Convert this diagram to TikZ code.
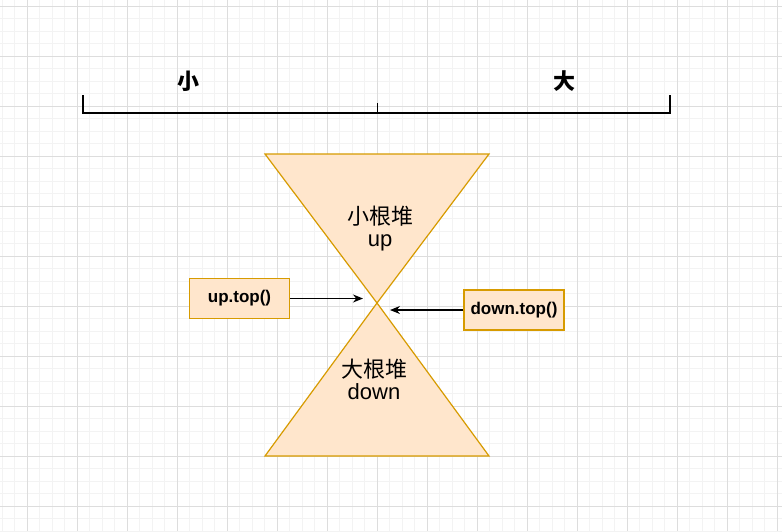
\documentclass[tikz,border=0pt]{standalone}
\usepackage{fontspec}
\setmainfont{Liberation Sans}
\newfontfamily\cjk{Noto Sans CJK SC}
\usetikzlibrary{arrows.meta}
\definecolor{fillor}{HTML}{FFE6CC}
\definecolor{strokeor}{HTML}{D79B00}
\definecolor{gridminor}{HTML}{F3F3F3}
\definecolor{gridmajor}{HTML}{DDDDDD}
\tikzset{
  heap/.style={fill=fillor, draw=strokeor, line width=1.2pt, line join=miter},
  callbox/.style={rectangle, fill=fillor, draw=strokeor, line width=1.2pt, minimum width=100pt, minimum height=40pt, inner sep=0pt, font=\fontsize{17}{20}\selectfont\bfseries},
  heaplabel/.style={align=center, font=\fontsize{22}{26}\selectfont},
  scalelabel/.style={font=\fontsize{22}{26}\selectfont\cjk\bfseries},
  ruler/.style={line width=2.4pt, line cap=rect},
  callarrow/.style={-{Stealth[length=10pt,width=8pt]}, line width=1.2pt},
}
\begin{document}
\begin{tikzpicture}[x=1pt,y=-1pt]
\useasboundingbox (0,0) rectangle (782,531);
\fill[white] (0,0) rectangle (782,531);
% grid
\foreach \i in {0,...,63} {
  \draw[gridminor, line width=0.8pt] ({2.3+12.5*\i},0) -- ({2.3+12.5*\i},531);
}
\foreach \i in {0,...,43} {
  \draw[gridminor, line width=0.8pt] (0,{6+12.5*\i}) -- (782,{6+12.5*\i});
}
\foreach \i in {0,...,15} {
  \draw[gridmajor, line width=0.8pt] ({27.3+50*\i},0) -- ({27.3+50*\i},531);
}
\foreach \i in {0,...,10} {
  \draw[gridmajor, line width=0.8pt] (0,{6+50*\i}) -- (782,{6+50*\i});
}
% ruler
\coordinate (rl) at (83,113);
\coordinate (rr) at (670,113);
\coordinate (rm) at (377,113);
\draw[ruler] (83,96.5) -- (rl) -- (rr) -- (670,96.5);
\draw[line width=0.8pt] (rm) -- (377,103);
\node[scalelabel] (small) at (188,81) {小};
\node[scalelabel] (big) at (564,81) {大};
% hourglass
\coordinate (apex) at (377,303);
\draw[heap] (265,154) -- (489,154) -- (apex) -- cycle;
\draw[heap] (265,456) -- (489,456) -- (apex) -- cycle;
\node[heaplabel] (up) at (380,229) {{\cjk 小根堆}\\[-4pt]up};
\node[heaplabel] (down) at (374,379) {{\cjk 大根堆}\\[-4pt]down};
% call boxes
\node[callbox] (uptop) at (239.5,298.5) {up.top()};
\node[callbox] (downtop) at (514,310) {down.top()};
\coordinate (upend) at (363,298.5);
\coordinate (downend) at (390,310);
\draw[callarrow] (uptop.east) -- (upend);
\draw[callarrow] (downtop.west) -- (downend);
\end{tikzpicture}
\end{document}
